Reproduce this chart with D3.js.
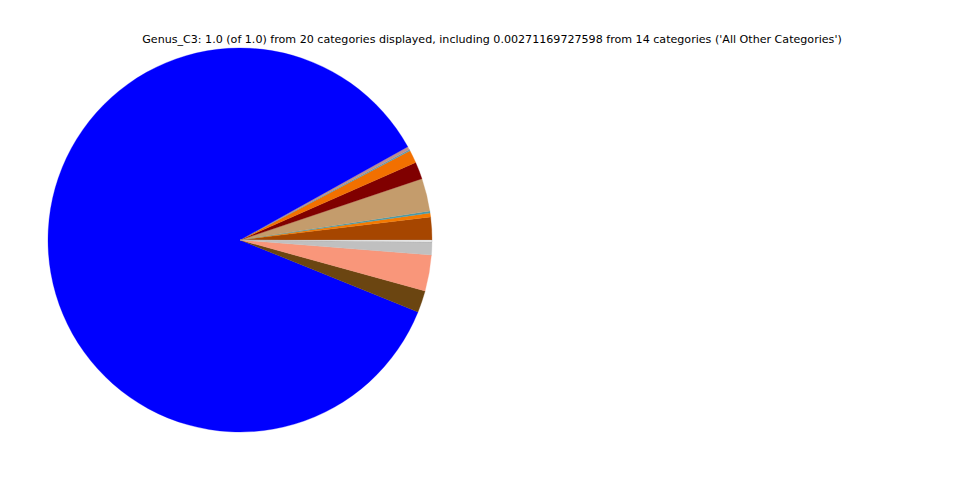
<!DOCTYPE html>
<html>
<head>
<meta charset="utf-8">
<script src="https://cdn.jsdelivr.net/npm/d3@7"></script>
<style>
  html, body { margin: 0; padding: 0; background: #fff; }
  svg { display: block; }
</style>
</head>
<body>
<svg id="chart" width="960" height="480"></svg>
<script>
const categories = ["Genus A", "Genus B", "Genus C", "Genus D", "Genus E", "Genus F", "Genus G",
  "All Other Categories", "Genus H", "Genus I", "Genus J", "Genus K", "Genus L"];
const values = [0.0192, 0.0033, 0.0017, 0.0275, 0.0144, 0.0108, 0.0011,
  0.0027, 0.8575, 0.0183, 0.0303, 0.0108, 0.0017];
const colors = ["#a64600", "#f57a00", "#4a9aa8", "#c49c6c", "#800000", "#f27000", "#5a9ab0",
  "#bc8f8f", "#0000ff", "#6b4511", "#f9967a", "#c0c0c0", "#f0f0f0"];
const title = "Genus_C3: 1.0 (of 1.0) from 20 categories displayed, including 0.00271169727598 from 14 categories ('All Other Categories')";

const svg = d3.select("#chart");
const cx = 240, cy = 240, r = 192;

svg.append("text")
  .attr("x", 492).attr("y", 43)
  .attr("text-anchor", "middle")
  .attr("font-family", "DejaVu Sans, sans-serif")
  .attr("font-size", 11.1)
  .attr("fill", "#000")
  .text(title);

const data = categories.map((c, i) => ({ name: c, value: values[i], color: colors[i] }));
const pie = d3.pie().value(d => d.value).sort(null)
  .startAngle(Math.PI / 2).endAngle(Math.PI / 2 - 2 * Math.PI);
const arc = d3.arc().innerRadius(0).outerRadius(r);

svg.append("g").attr("transform", `translate(${cx},${cy})`)
  .selectAll("path").data(pie(data)).join("path")
  .attr("d", arc)
  .attr("fill", d => d.data.color)
  .attr("stroke", d => d.data.name === "Genus L" ? "#999" : d.data.color)
  .attr("stroke-width", 0.3);
</script>
</body>
</html>
